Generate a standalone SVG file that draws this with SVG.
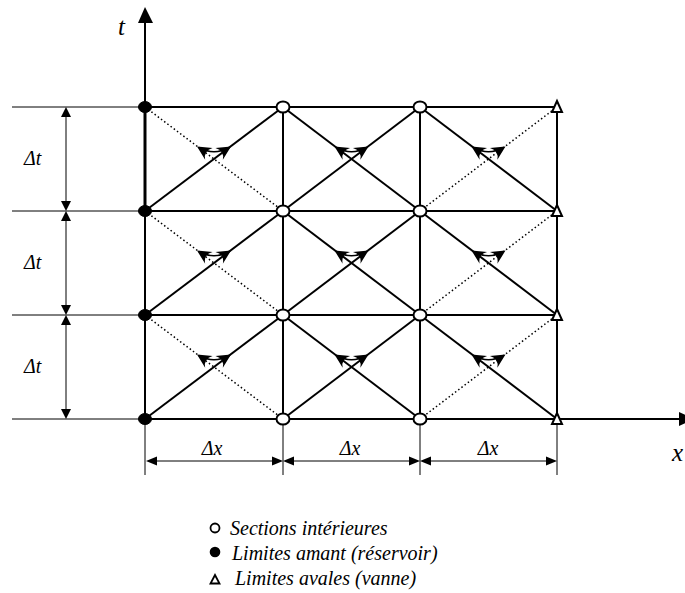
<svg xmlns="http://www.w3.org/2000/svg" xmlns:xlink="http://www.w3.org/1999/xlink" width="685" height="593" viewBox="0 0 685 593">
<style>
.thin{stroke:#000;stroke-width:1;fill:none}
.grid{stroke:#000;stroke-width:2;fill:none}
.dot{stroke:#000;stroke-width:1.5;stroke-dasharray:1.5 2.5;fill:none}
.lbl{font-family:"Liberation Serif","Times New Roman",serif;font-style:italic;fill:#000}
.hollow{fill:#fff;stroke:#000;stroke-width:2}
.full{fill:#000;stroke:#000;stroke-width:1}
.tri{fill:#fff;stroke:#000;stroke-width:2;stroke-linejoin:miter}
</style>
<defs>
<path id="ah" d="M0,0 L-14,-7 Q-7.5,0 -14,7 Z" fill="#000"/>
<g id="pair">
<path d="M-15,-11.5 Q0,-3 15,-11.5" stroke="#000" stroke-width="1.6" fill="none"/>
<use xlink:href="#ah" transform="translate(17,-12.5) rotate(-32)"/>
<use xlink:href="#ah" transform="translate(-17,-12.5) rotate(-148)"/>
</g>
</defs>

<g id="axes">
<line class="grid" x1="145" y1="20" x2="145" y2="107"/>
<line x1="145" y1="107" x2="145" y2="211" stroke="#000" stroke-width="3"/>
<line class="grid" x1="145" y1="211" x2="145" y2="419"/>
<polygon points="145,7 138,23 153,23" fill="#000"/>
<text class="lbl" x="118" y="35" font-size="25">t</text>
<line class="grid" x1="145" y1="419" x2="682" y2="419"/>
<polygon points="694,419 679,412 679,426" fill="#000"/>
<text class="lbl" x="672" y="461" font-size="25">x</text>
</g>

<g id="connectors">
<line class="thin" x1="12" y1="107" x2="145" y2="107"/>
<line class="thin" x1="12" y1="211" x2="145" y2="211"/>
<line class="thin" x1="12" y1="315" x2="145" y2="315"/>
<line class="thin" x1="12" y1="419" x2="145" y2="419"/>
<line class="thin" x1="145" y1="419" x2="145" y2="475"/>
<line class="thin" x1="283" y1="419" x2="283" y2="475"/>
<line class="thin" x1="420" y1="419" x2="420" y2="475"/>
<line class="thin" x1="557" y1="419" x2="557" y2="475"/>
<line class="grid" x1="145" y1="107" x2="557" y2="107"/>
<line class="grid" x1="145" y1="211" x2="557" y2="211"/>
<line class="grid" x1="145" y1="315" x2="557" y2="315"/>
<line class="grid" x1="283" y1="107" x2="283" y2="419"/>
<line class="grid" x1="420" y1="107" x2="420" y2="419"/>
<line class="grid" x1="557" y1="107" x2="557" y2="419"/>
<line class="grid" x1="145" y1="211" x2="283" y2="107"/>
<line class="dot" x1="145" y1="107" x2="283" y2="211"/>
<line class="grid" x1="283" y1="211" x2="420" y2="107"/>
<line class="grid" x1="283" y1="107" x2="420" y2="211"/>
<line class="grid" x1="420" y1="107" x2="557" y2="211"/>
<line class="dot" x1="420" y1="211" x2="557" y2="107"/>
<line class="grid" x1="145" y1="315" x2="283" y2="211"/>
<line class="dot" x1="145" y1="211" x2="283" y2="315"/>
<line class="grid" x1="283" y1="315" x2="420" y2="211"/>
<line class="grid" x1="283" y1="211" x2="420" y2="315"/>
<line class="grid" x1="420" y1="211" x2="557" y2="315"/>
<line class="dot" x1="420" y1="315" x2="557" y2="211"/>
<line class="grid" x1="145" y1="419" x2="283" y2="315"/>
<line class="dot" x1="145" y1="315" x2="283" y2="419"/>
<line class="grid" x1="283" y1="419" x2="420" y2="315"/>
<line class="grid" x1="283" y1="315" x2="420" y2="419"/>
<line class="grid" x1="420" y1="315" x2="557" y2="419"/>
<line class="dot" x1="420" y1="419" x2="557" y2="315"/>
<use xlink:href="#pair" x="214" y="159"/>
<use xlink:href="#pair" x="351.5" y="159"/>
<use xlink:href="#pair" x="488.5" y="159"/>
<use xlink:href="#pair" x="214" y="263"/>
<use xlink:href="#pair" x="351.5" y="263"/>
<use xlink:href="#pair" x="488.5" y="263"/>
<use xlink:href="#pair" x="214" y="367"/>
<use xlink:href="#pair" x="351.5" y="367"/>
<use xlink:href="#pair" x="488.5" y="367"/>
</g>

<g id="dim-t">
<line class="thin" x1="66" y1="112" x2="66" y2="206"/>
<line class="thin" x1="66" y1="216" x2="66" y2="310"/>
<line class="thin" x1="66" y1="320" x2="66" y2="414"/>
<polygon points="66,107 61,117 71,117" fill="#000"/>
<polygon points="66,211 61,201 71,201" fill="#000"/>
<polygon points="66,211 61,221 71,221" fill="#000"/>
<polygon points="66,315 61,305 71,305" fill="#000"/>
<polygon points="66,315 61,325 71,325" fill="#000"/>
<polygon points="66,419 61,409 71,409" fill="#000"/>
<text class="lbl" x="24" y="165" font-size="20">Δt</text>
<text class="lbl" x="24" y="269" font-size="20">Δt</text>
<text class="lbl" x="24" y="373" font-size="20">Δt</text>
</g>

<g id="dim-x">
<line class="thin" x1="150" y1="461" x2="278" y2="461"/>
<line class="thin" x1="288" y1="461" x2="415" y2="461"/>
<line class="thin" x1="425" y1="461" x2="552" y2="461"/>
<polygon points="146,461 157,456.5 157,465.5" fill="#000"/>
<polygon points="283,461 272,456.5 272,465.5" fill="#000"/>
<polygon points="283,461 294,456.5 294,465.5" fill="#000"/>
<polygon points="420,461 409,456.5 409,465.5" fill="#000"/>
<polygon points="420,461 431,456.5 431,465.5" fill="#000"/>
<polygon points="557,461 546,456.5 546,465.5" fill="#000"/>
<text class="lbl" x="212" y="455" font-size="20" text-anchor="middle">Δx</text>
<text class="lbl" x="350" y="455" font-size="20" text-anchor="middle">Δx</text>
<text class="lbl" x="488" y="455" font-size="20" text-anchor="middle">Δx</text>
</g>

<g id="nodes">
<g id="n-amont">
<ellipse class="full" cx="145" cy="107" rx="6.5" ry="5.5"/>
<ellipse class="full" cx="145" cy="211" rx="6.5" ry="5.5"/>
<ellipse class="full" cx="145" cy="315" rx="6.5" ry="5.5"/>
<ellipse class="full" cx="145" cy="419" rx="6.5" ry="5.5"/>
</g>
<g id="n-int1">
<ellipse class="hollow" cx="283" cy="107" rx="6.5" ry="5.5"/>
<ellipse class="hollow" cx="283" cy="211" rx="6.5" ry="5.5"/>
<ellipse class="hollow" cx="283" cy="315" rx="6.5" ry="5.5"/>
<ellipse class="hollow" cx="283" cy="419" rx="6.5" ry="5.5"/>
</g>
<g id="n-int2">
<ellipse class="hollow" cx="420" cy="107" rx="6.5" ry="5.5"/>
<ellipse class="hollow" cx="420" cy="211" rx="6.5" ry="5.5"/>
<ellipse class="hollow" cx="420" cy="315" rx="6.5" ry="5.5"/>
<ellipse class="hollow" cx="420" cy="419" rx="6.5" ry="5.5"/>
</g>
<g id="n-aval">
<polygon class="tri" points="557,101 552,112 562,112"/>
<polygon class="tri" points="557,205 552,216 562,216"/>
<polygon class="tri" points="557,309 552,320 562,320"/>
<polygon class="tri" points="557,413 552,424 562,424"/>
</g>
</g>

<g id="legend">
<circle cx="215" cy="528" r="4.5" fill="#fff" stroke="#000" stroke-width="1.8"/>
<text class="lbl" x="230" y="535" font-size="20">Sections intérieures</text>
<circle cx="215" cy="552" r="5.3" fill="#000"/>
<text class="lbl" x="232" y="560" font-size="20">Limites amant (réservoir)</text>
<polygon points="215,575 210.5,583.5 219.5,583.5" fill="#fff" stroke="#000" stroke-width="1.8"/>
<text class="lbl" x="235" y="585" font-size="20">Limites avales (vanne)</text>
</g>
</svg>
